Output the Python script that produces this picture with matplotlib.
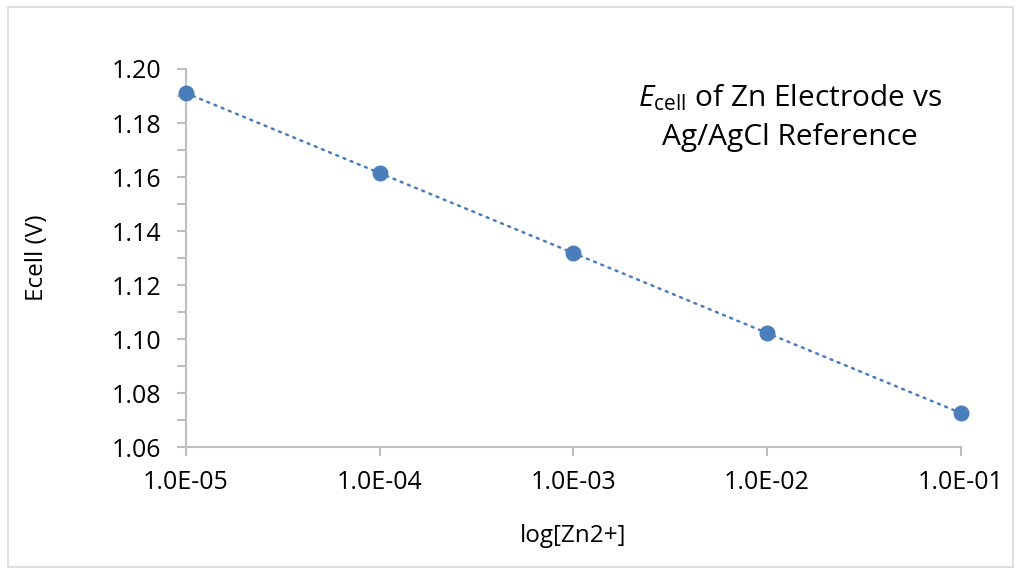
import numpy as np
import matplotlib.pyplot as plt
from matplotlib.patches import Rectangle

plt.rcParams['font.family'] = ['Open Sans', 'DejaVu Sans']
plt.rcParams['mathtext.fontset'] = 'custom'
plt.rcParams['mathtext.rm'] = 'Open Sans'
plt.rcParams['mathtext.it'] = 'Open Sans:italic'

# data
conc = [1e-5, 1e-4, 1e-3, 1e-2, 1e-1]
ecell = [1.1911, 1.1615, 1.1319, 1.1022, 1.0726]
xtick_labels = ['1.0E-05', '1.0E-04', '1.0E-03', '1.0E-02', '1.0E-01']
yticks = [1.06, 1.08, 1.10, 1.12, 1.14, 1.16, 1.18, 1.20]

blue = '#4a7ebb'
grey = '#bfbfbf'

fig = plt.figure(figsize=(10.21, 5.75), dpi=100)
ax = fig.add_axes([0.182, 0.2226, 0.759, 0.6574])

# linear trendline on log scale
logx = np.log10(conc)
m, b = np.polyfit(logx, ecell, 1)
xt = np.array([conc[0], conc[-1]])
ax.plot(xt, m*np.log10(xt) + b, color=blue, lw=1.8, linestyle=(0, (0.8, 2.3)),
        dash_capstyle='round', zorder=2)
ax.plot(conc, ecell, 'o', color=blue, markersize=10.5, zorder=3, clip_on=False)

ax.set_xscale('log')
ax.set_xlim(1e-5, 1e-1)
ax.set_ylim(1.06, 1.20)
ax.set_xticks(conc)
ax.set_xticklabels(xtick_labels)
ax.xaxis.set_minor_locator(plt.NullLocator())
ax.set_yticks(yticks)
ax.set_yticklabels(['%.2f' % v for v in yticks])
ax.set_yticks(np.arange(1.07, 1.20, 0.02), minor=True)

for s in ['top', 'right']:
    ax.spines[s].set_visible(False)
for s in ['left', 'bottom']:
    ax.spines[s].set_color(grey)
    ax.spines[s].set_linewidth(1.5)
ax.tick_params(axis='both', which='both', color=grey, width=1.5, labelsize=18)
ax.tick_params(axis='both', which='major', length=6.5)
ax.tick_params(axis='y', which='minor', length=6.5)
ax.tick_params(axis='x', pad=10)
ax.tick_params(axis='y', pad=11)

ax.set_xlabel('log[Zn2+]', fontsize=17.5)
ax.set_ylabel('Ecell (V)', fontsize=17.5)
ax.xaxis.set_label_coords(0.5, -0.205)
ax.yaxis.set_label_coords(-0.176, 0.5)

ax.text(0.779, 0.872, r'$\mathit{E}_{\mathrm{cell}}$ of Zn Electrode vs' + '\nAg/AgCl Reference',
        transform=ax.transAxes, ha='center', va='center', fontsize=21.5, linespacing=1.45)

fig.patches.append(Rectangle((8/1021, 8/575), 1005/1021, 560/575, transform=fig.transFigure,
                             fill=False, edgecolor='#d9d9d9', lw=1.2))

fig.savefig('out.png', dpi=100)
